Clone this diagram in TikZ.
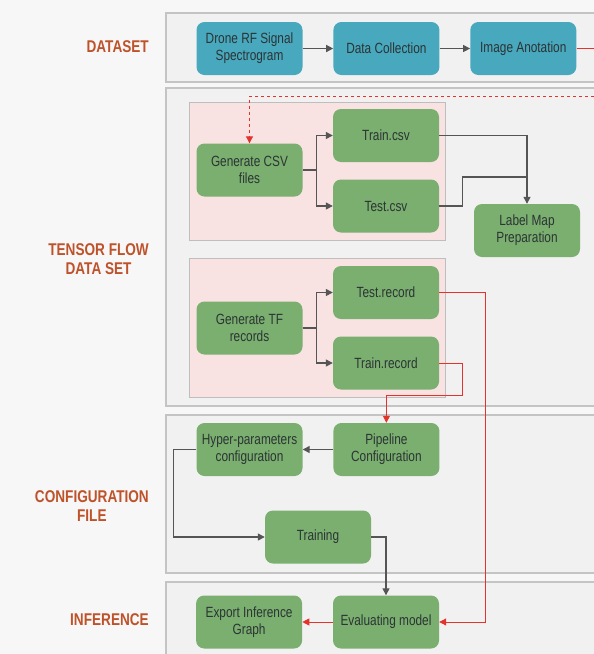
\documentclass[tikz,border=0pt]{standalone}
\usepackage{fontspec}
\setmainfont{Liberation Sans}[FakeStretch=0.8]
\usepackage{xcolor}
\usetikzlibrary{arrows.meta,positioning}

\definecolor{boxblue}{RGB}{72,168,190}
\definecolor{boxgreen}{RGB}{122,175,112}
\definecolor{txtgray}{RGB}{44,52,52}
\definecolor{lblred}{RGB}{190,82,42}
\definecolor{bandgray}{RGB}{241,241,241}
\definecolor{bandline}{RGB}{196,196,196}
\definecolor{pinkfill}{RGB}{248,226,226}
\definecolor{pinkline}{RGB}{190,190,190}
\definecolor{arrowgray}{RGB}{85,85,85}
\definecolor{linered}{RGB}{226,52,44}

\begin{document}
\begin{tikzpicture}[x=1pt, y=-1pt, >={Triangle[length=7pt,width=7pt]},
    node distance=30.5pt,
    box/.style={rounded corners=8pt, minimum width=106pt, minimum height=53pt,
      inner sep=2pt, align=center, text=txtgray, font=\fontsize{14.8}{17}\selectfont},
    bluebox/.style={box, fill=boxblue},
    greenbox/.style={box, fill=boxgreen},
    band/.style={fill=bandgray, draw=bandline, line width=1.2pt},
    pinkbox/.style={fill=pinkfill, draw=pinkline, line width=1pt},
    lbl/.style={anchor=east, align=center, inner sep=0pt, text=lblred,
      font=\bfseries\fontsize{17}{19}\selectfont},
    flow/.style={->, draw=arrowgray, line width=1.3pt},
    redflow/.style={->, draw=linered, line width=1pt}]
  \useasboundingbox (0,0) rectangle (594,654);
  \clip (0,0) rectangle (594,654);
  \fill[white!97!black] (0,0) rectangle (594,654);

  % bands
  \draw[band] (166,13) rectangle (610,82);
  \draw[band] (166,88) rectangle (610,406);
  \draw[band] (166,415) rectangle (610,573);
  \draw[band] (166,582) rectangle (610,670);
  \draw[pinkbox] (189,102) rectangle (445,240);
  \draw[pinkbox] (189,258) rectangle (445,397);

  % labels
  \node[lbl] (dataset) at (149,47) {DATASET};
  \node[lbl] (tfdata)  at (149,259) {TENSOR FLOW\\DATA SET};
  \node[lbl] (config)  at (149,506) {CONFIGURATION\\FILE};
  \node[lbl] (infer)   at (149,620) {INFERENCE};

  % nodes
  \node[bluebox]  (drone)    at (249.5,48.5) {Drone RF Signal\\Spectrogram};
  \node[bluebox]  (collect)  [right=of drone] {Data Collection};
  \node[bluebox]  (annot)    [right=of collect] {Image Anotation};
  \node[greenbox] (gencsv)   at (249.5,170) {Generate CSV\\files};
  \node[greenbox] (traincsv) at (386,135.5) {Train.csv};
  \node[greenbox] (testcsv)  at (386,206) {Test.csv};
  \node[greenbox] (labelmap) at (527,230.5) {Label Map\\Preparation};
  \node[greenbox] (gentf)    at (249.5,328) {Generate TF\\records};
  \node[greenbox] (testrec)  at (386,292.5) {Test.record};
  \node[greenbox] (trainrec) at (386,363) {Train.record};
  \node[greenbox] (hyper)    at (249.5,449.5) {Hyper-parameters\\configuration};
  \node[greenbox] (pipeline) [right=of hyper] {Pipeline\\Configuration};
  \node[greenbox] (training) at (318,537) {Training};
  \node[greenbox] (evalm)    at (386,622) {Evaluating model};
  \node[greenbox] (export)   [left=of evalm] {Export Inference\\Graph};

  \coordinate (offA) at (600,48.5);
  \coordinate (offB) at (600,96);
  \coordinate (join) at (527,177);

  % connectors
  \draw[flow] (drone) -- (collect);
  \draw[flow] (collect) -- (annot);
  \draw[linered, line width=1pt] (annot.east) -- (offA);
  \draw[redflow, dashed] (offB) -| (gencsv.north);
  \draw[flow] (gencsv.east) -- ++(14,0) |- (traincsv.west);
  \draw[flow] (gencsv.east) -- ++(14,0) |- (testcsv.west);
  \draw[flow] (traincsv.east) -| (labelmap.north);
  \draw[arrowgray, line width=1.3pt] (testcsv.east) -- ++(23,0) |- (join);
  \draw[flow] (gentf.east) -- ++(14,0) |- (testrec.west);
  \draw[flow] (gentf.east) -- ++(14,0) |- (trainrec.west);
  \draw[redflow] (testrec.east) -- ++(46,0) |- (evalm.east);
  \draw[redflow] (trainrec.east) -- ++(23,0) -- ++(0,32) -| (pipeline.north);
  \draw[flow] (pipeline) -- (hyper);
  \draw[flow] (hyper.west) -- ++(-23,0) |- (training.west);
  \draw[flow] (training.east) -| (evalm.north);
  \draw[redflow] (evalm) -- (export);
\end{tikzpicture}
\end{document}
